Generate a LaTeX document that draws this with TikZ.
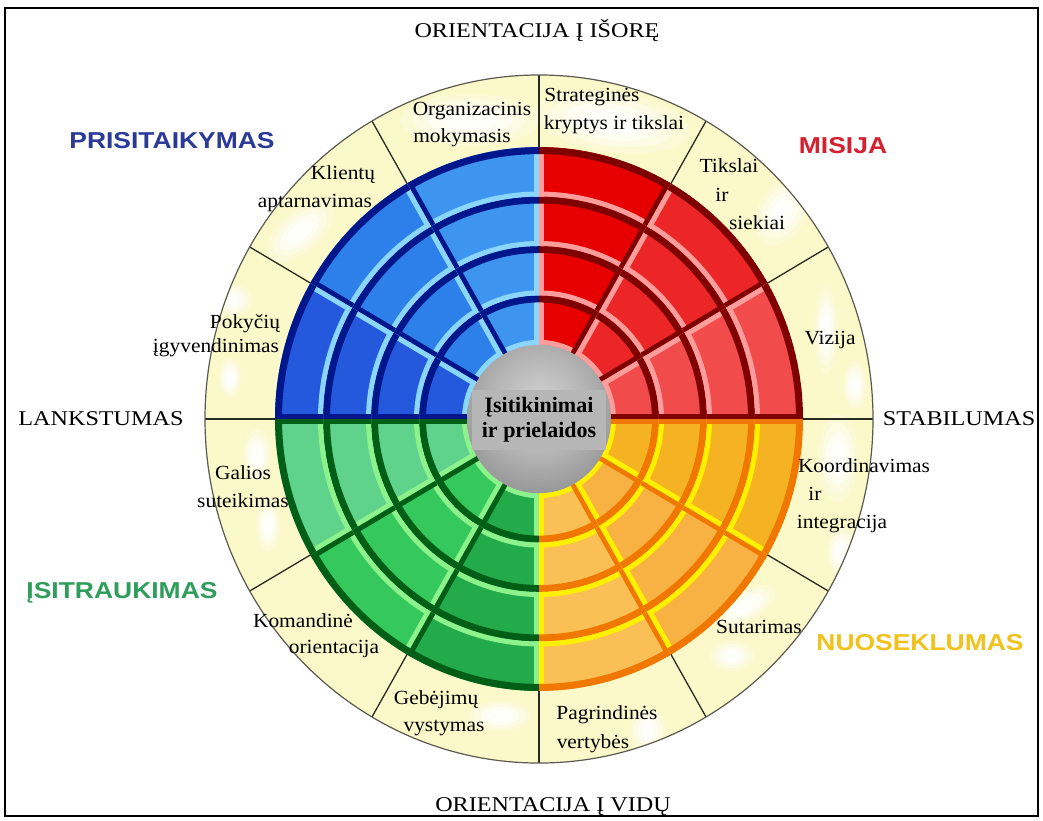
\documentclass[tikz,border=0pt]{standalone}
\usepackage{fontspec}
\setmainfont{Liberation Serif}
\newfontfamily\quadsans{Liberation Sans}

% label ring and hub
\definecolor{ringbg}{HTML}{FBF8CA}
\definecolor{rimline}{HTML}{5A5A50}
\definecolor{divline}{HTML}{2A2A22}
\definecolor{hubA}{HTML}{D2D2D2}
\definecolor{hubB}{HTML}{B2B2B2}
\definecolor{hubC}{HTML}{868686}
\definecolor{hubD}{HTML}{5E5E5E}
\definecolor{hubbox}{HTML}{B6B6B6}
% blue quadrant
\definecolor{bA}{HTML}{3D95F0}
\definecolor{bB}{HTML}{2D7FE9}
\definecolor{bC}{HTML}{2459DE}
\definecolor{bDk}{HTML}{00178C}
\definecolor{bLt}{HTML}{8AD6FF}
% red quadrant
\definecolor{rA}{HTML}{E60000}
\definecolor{rB}{HTML}{EC2626}
\definecolor{rC}{HTML}{F14B4B}
\definecolor{rDk}{HTML}{7E0000}
\definecolor{rLt}{HTML}{FF9C9C}
% green quadrant
\definecolor{gA}{HTML}{5FD28B}
\definecolor{gB}{HTML}{35C85D}
\definecolor{gC}{HTML}{23AA4A}
\definecolor{gDk}{HTML}{005E16}
\definecolor{gLt}{HTML}{8EF28C}
% orange quadrant
\definecolor{oA}{HTML}{FBC055}
\definecolor{oB}{HTML}{F8B243}
\definecolor{oC}{HTML}{F5B324}
\definecolor{oDk}{HTML}{F07800}
\definecolor{oLt}{HTML}{FFF000}
% quadrant titles
\definecolor{quadBlue}{HTML}{2B3A97}
\definecolor{quadRed}{HTML}{D7202F}
\definecolor{quadGreen}{HTML}{2F9E5C}
\definecolor{quadGold}{HTML}{F1C21B}

\pgfdeclareradialshading{hubshade}{\pgfpoint{0bp}{6bp}}{color(0bp)=(hubA); color(18bp)=(hubB); color(36bp)=(hubC); color(50bp)=(hubD); color(80bp)=(hubD)}

% one bevelled block of the wheel:
% #1,#2 angles, #3,#4 radii, #5 fill, #6 outer arc, #7 inner arc, #8 edge at #1, #9 edge at #2
\newcommand\ringseg[9]{%
  \pgfmathsetmacro\segin{#3-12}%
  \pgfmathsetmacro\segout{#4+12}%
  \begin{scope}
    \clip (#1:#3) arc[start angle=#1,end angle=#2,radius=#3] -- (#2:#4) arc[start angle=#2,end angle=#1,radius=#4] -- cycle;
    \fill[#5] (#1:#3) arc[start angle=#1,end angle=#2,radius=#3] -- (#2:#4) arc[start angle=#2,end angle=#1,radius=#4] -- cycle;
    \draw[#7, line width=10pt] (#1:#3) arc[start angle=#1,end angle=#2,radius=#3];
    \draw[#8, line width=10pt] (#1:\segin) -- (#1:\segout);
    \draw[#9, line width=10pt] (#2:\segin) -- (#2:\segout);
    \draw[#6, line width=14pt] (#1:#4) arc[start angle=#1,end angle=#2,radius=#4];
  \end{scope}}

% soft white patch on the label ring: x, y, x radius, y radius, rotation
\newcommand\blot[5]{%
  \foreach \k/\o in {1/0.25,0.8/0.35,0.6/0.5,0.4/0.7}{%
    \fill[white, opacity=\o, rotate around={#5:(#1,-#2)}] (#1,-#2) ellipse[x radius=\k*#3, y radius=\k*#4];}}

\begin{document}
\begin{tikzpicture}[x=1pt, y=1pt,
  frame/.style={draw=black, line width=2pt},
  divider/.style={draw=divline, line width=1.3pt},
  rim/.style={draw=rimline, line width=1.2pt},
  lbl/.style={font=\fontsize{20}{24}\selectfont, anchor=base, inner sep=0pt, xscale=1.07, transform shape},
  axislbl/.style={font=\fontsize{21}{24}\selectfont, anchor=base, inner sep=0pt, xscale=1.15, transform shape},
  quadlbl/.style={font=\quadsans\bfseries\fontsize{23}{26}\selectfont, anchor=base, inner sep=0pt, xscale=1.15, transform shape},
  corebox/.style={fill=hubbox, minimum width=134pt, minimum height=60pt, inner sep=0pt, align=center,
    font=\bfseries\fontsize{22}{25}\selectfont}]

\useasboundingbox (0,0) rectangle (1043,-820);
\fill[white] (0,0) rectangle (1043,-820);
\draw[frame] (5,-8) rectangle (1038,-816);

% pale label ring with its soft white patches
\fill[ringbg] (539,-419) ellipse[x radius=334, y radius=344];
\begin{scope}
  \clip (539,-419) ellipse[x radius=333, y radius=343];
  \blot{470}{120}{70}{26}{0}
  \blot{612}{122}{78}{30}{-8}
  \blot{300}{232}{40}{20}{40}
  \blot{782}{212}{24}{36}{-30}
  \blot{826}{330}{12}{44}{0}
  \blot{855}{385}{12}{24}{0}
  \blot{838}{458}{20}{44}{0}
  \blot{842}{552}{16}{24}{0}
  \blot{232}{300}{20}{16}{0}
  \blot{230}{378}{12}{20}{0}
  \blot{257}{455}{14}{26}{0}
  \blot{268}{525}{12}{26}{0}
  \blot{298}{680}{34}{16}{-40}
  \blot{745}{606}{34}{15}{30}
  \blot{732}{656}{22}{15}{0}
  \blot{500}{716}{32}{15}{0}
  \blot{648}{730}{18}{22}{0}
\end{scope}

\begin{scope}[shift={(539,-419)}, yscale=1.03]
  % four rings of blocks, three blocks per quadrant
  \foreach \ri/\ro in {72/120,120/168,168/216,216/264}{
    \ringseg{90}{120}{\ri}{\ro}{bA}{bDk}{bLt}{bLt}{bDk}
    \ringseg{120}{150}{\ri}{\ro}{bB}{bDk}{bLt}{bLt}{bDk}
    \ringseg{150}{180}{\ri}{\ro}{bC}{bDk}{bLt}{bLt}{bDk}
    \ringseg{60}{90}{\ri}{\ro}{rA}{rDk}{rLt}{rDk}{rLt}
    \ringseg{30}{60}{\ri}{\ro}{rB}{rDk}{rLt}{rDk}{rLt}
    \ringseg{0}{30}{\ri}{\ro}{rC}{rDk}{rLt}{rDk}{rLt}
    \ringseg{180}{210}{\ri}{\ro}{gA}{gDk}{gLt}{gDk}{gLt}
    \ringseg{210}{240}{\ri}{\ro}{gB}{gDk}{gLt}{gDk}{gLt}
    \ringseg{240}{270}{\ri}{\ro}{gC}{gDk}{gLt}{gDk}{gLt}
    \ringseg{270}{300}{\ri}{\ro}{oA}{oDk}{oLt}{oLt}{oDk}
    \ringseg{300}{330}{\ri}{\ro}{oB}{oDk}{oLt}{oLt}{oDk}
    \ringseg{330}{360}{\ri}{\ro}{oC}{oDk}{oLt}{oLt}{oDk}
  }
  % hub
  \shade[shading=hubshade] (0,0) circle[radius=72];
  % sector dividers of the label ring and its rim
  \foreach \a in {0,30,...,330}{\draw[divider] (\a:264) -- (\a:334);}
  \draw[rim] (0,0) circle[radius=334];
\end{scope}

% hub caption
\node[corebox] (core) at (539,-420) {Įsitikinimai\\ir prielaidos};

% axis titles
\node[axislbl] (outward) at (537,-37) {ORIENTACIJA Į IŠORĘ};
\node[axislbl] (inward) at (553,-811) {ORIENTACIJA Į VIDŲ};
\node[axislbl] (flex) at (101,-425) {LANKSTUMAS};
\node[axislbl] (stab) at (959,-425) {STABILUMAS};

% quadrant titles
\node[quadlbl, text=quadBlue] (qadapt) at (172,-148) {PRISITAIKYMAS};
\node[quadlbl, text=quadRed] (qmission) at (843,-153) {MISIJA};
\node[quadlbl, text=quadGreen] (qinvolve) at (122,-598) {ĮSITRAUKIMAS};
\node[quadlbl, text=quadGold] (qconsist) at (920,-650) {NUOSEKLUMAS};

% sector captions
\node[lbl] (orgA) at (472,-115) {Organizacinis};
\node[lbl] (orgB) at (462,-142) {mokymasis};
\node[lbl] (strA) at (592,-101) {Strateginės};
\node[lbl] (strB) at (614,-129) {kryptys ir tikslai};
\node[lbl] (cliA) at (343,-179) {Klientų};
\node[lbl] (cliB) at (315,-207) {aptarnavimas};
\node[lbl] (goalA) at (729,-172) {Tikslai};
\node[lbl] (goalB) at (722,-201) {ir};
\node[lbl] (goalC) at (757,-229) {siekiai};
\node[lbl] (vision) at (830,-344) {Vizija};
\node[lbl] (chgA) at (245,-328) {Pokyčių};
\node[lbl] (chgB) at (216,-352) {įgyvendinimas};
\node[lbl] (powA) at (243,-479) {Galios};
\node[lbl] (powB) at (243,-507) {suteikimas};
\node[lbl] (cooA) at (864,-472) {Koordinavimas};
\node[lbl] (cooB) at (815,-500) {ir};
\node[lbl] (cooC) at (842,-528) {integracija};
\node[lbl] (teamA) at (303,-627) {Komandinė};
\node[lbl] (teamB) at (334,-653) {orientacija};
\node[lbl] (agree) at (759,-633) {Sutarimas};
\node[lbl] (capA) at (436,-704) {Gebėjimų};
\node[lbl] (capB) at (444,-731) {vystymas};
\node[lbl] (valA) at (607,-719) {Pagrindinės};
\node[lbl] (valB) at (593,-748) {vertybės};
\end{tikzpicture}
\end{document}
